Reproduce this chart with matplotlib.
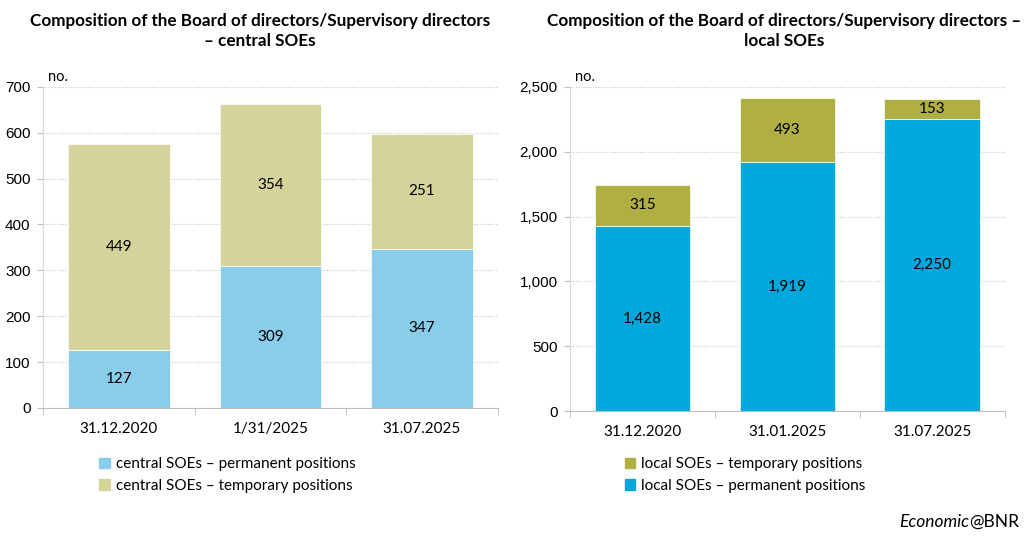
import matplotlib.pyplot as plt
from matplotlib.patches import Patch
from matplotlib.ticker import FuncFormatter

# values
central_dates = ["31.12.2020", "1/31/2025", "31.07.2025"]
central_permanent = [127, 309, 347]
central_temporary = [449, 354, 251]

local_dates = ["31.12.2020", "31.01.2025", "31.07.2025"]
local_permanent = [1428, 1919, 2250]
local_temporary = [315, 493, 153]

TXT = "Lato"
NUM = "Liberation Sans"

fig = plt.figure(figsize=(10.24, 5.36), dpi=100)


def style_axis(ax, ymax, step, labels):
    ax.set_xlim(-0.5, 2.5)
    ax.set_ylim(0, ymax)
    ax.set_yticks(range(0, ymax + 1, step))
    ax.yaxis.set_major_formatter(FuncFormatter(lambda v, p: f"{int(v):,}"))
    ax.set_xticks(range(3))
    ax.set_xticklabels(labels, fontfamily=TXT, fontsize=11)
    ax.set_xticks([-0.5, 0.5, 1.5, 2.5], minor=True)
    ax.tick_params(axis="x", which="major", length=0, pad=10)
    ax.tick_params(axis="x", which="minor", length=5, color="#bfbfbf")
    ax.tick_params(axis="y", length=4, color="#bfbfbf", labelsize=11, pad=5)
    for lab in ax.get_yticklabels():
        lab.set_fontfamily(NUM)
    for s in ["top", "right"]:
        ax.spines[s].set_visible(False)
    ax.spines["left"].set_color("#d9d9d9")
    ax.spines["bottom"].set_color("#bfbfbf")
    ax.yaxis.grid(True, linestyle=(0, (1, 1.5)), color="#c8c8c8", linewidth=0.8)
    ax.set_axisbelow(True)
    ax.text(0.01, 1.01, "no.", transform=ax.transAxes, fontfamily=TXT,
            fontsize=10.5, va="bottom", ha="left")


def label_bars(ax, bars, values):
    for b, v in zip(bars, values):
        ax.text(b.get_x() + b.get_width() / 2, b.get_y() + b.get_height() / 2,
                f"{v:,}", ha="center", va="center", fontfamily=TXT, fontsize=11)


# left chart: central SOEs
ax1 = fig.add_axes([0.042, 0.239, 0.444, 0.599])
c_perm, c_temp = "#89cdeb", "#d4d49a"
b1 = ax1.bar(range(3), central_permanent, width=0.67, color=c_perm,
             edgecolor="white", linewidth=0.5)
b2 = ax1.bar(range(3), central_temporary, width=0.67, bottom=central_permanent,
             color=c_temp, edgecolor="white", linewidth=0.5)
style_axis(ax1, 700, 100, central_dates)
label_bars(ax1, b1, central_permanent)
label_bars(ax1, b2, central_temporary)

fig.text(0.254, 0.975, "Composition of the Board of directors/Supervisory directors\n\u2013 central SOEs",
         ha="center", va="top", fontfamily=TXT, fontweight="bold", fontsize=12.3,
         linespacing=1.3)

fig.legend(handles=[Patch(color=c_perm, label="central SOEs \u2013 permanent positions"),
                    Patch(color=c_temp, label="central SOEs \u2013 temporary positions")],
           loc="upper left", bbox_to_anchor=(0.091, 0.158), frameon=False,
           prop={"family": TXT, "size": 11}, handlelength=0.7, handleheight=0.7,
           handletextpad=0.4, labelspacing=0.5, borderaxespad=0)

# right chart: local SOEs
ax2 = fig.add_axes([0.557, 0.233, 0.424, 0.605])
l_perm, l_temp = "#00a8dc", "#afaf44"
b3 = ax2.bar(range(3), local_permanent, width=0.66, color=l_perm,
             edgecolor="white", linewidth=0.5)
b4 = ax2.bar(range(3), local_temporary, width=0.66, bottom=local_permanent,
             color=l_temp, edgecolor="white", linewidth=0.5)
style_axis(ax2, 2500, 500, local_dates)
label_bars(ax2, b3, local_permanent)
label_bars(ax2, b4, local_temporary)

fig.text(0.766, 0.975, "Composition of the Board of directors/Supervisory directors \u2013\nlocal SOEs",
         ha="center", va="top", fontfamily=TXT, fontweight="bold", fontsize=12.3,
         linespacing=1.3)

fig.legend(handles=[Patch(color=l_temp, label="local SOEs \u2013 temporary positions"),
                    Patch(color=l_perm, label="local SOEs \u2013 permanent positions")],
           loc="upper left", bbox_to_anchor=(0.604, 0.158), frameon=False,
           prop={"family": TXT, "size": 11}, handlelength=0.7, handleheight=0.7,
           handletextpad=0.4, labelspacing=0.5, borderaxespad=0)

# source note: "Economic" in italics, "@BNR" upright, right-aligned together
bnr = fig.text(0.995, 0.012, "@BNR", ha="right", va="bottom", fontfamily=TXT,
               fontsize=12.5)
r = fig.canvas.get_renderer()
bb = bnr.get_window_extent(renderer=r)
fig.text(bb.x0 / fig.bbox.width, 0.012, "Economic", ha="right", va="bottom",
         fontfamily=TXT, fontstyle="italic", fontsize=12.5)

fig.savefig("out.png", dpi=100)
